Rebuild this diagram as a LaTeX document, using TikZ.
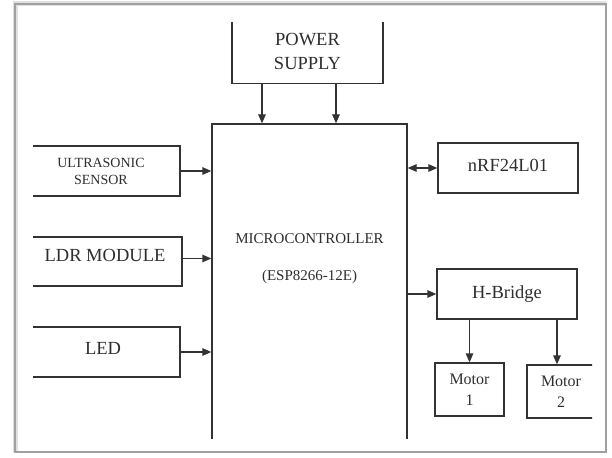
\documentclass[tikz,border=0pt]{standalone}
\usepackage{fontspec}
\setmainfont{Liberation Serif}
\usetikzlibrary{arrows.meta,calc}
\definecolor{LineCol}{HTML}{333333}
\definecolor{TextCol}{HTML}{2E2E2E}
\definecolor{FrameCol}{HTML}{A0A0A0}
\definecolor{ShadeCol}{HTML}{E0E0E0}

\begin{document}
\begin{tikzpicture}[x=1pt,y=-1pt,
  every node/.style={font=\fontsize{18.5}{24}\selectfont, text=TextCol},
  blk/.style={draw=LineCol, line width=1.3pt, inner sep=0pt, align=center},
  arr/.style={draw=LineCol, line width=1.3pt},
  >={Triangle[length=9pt,width=7.5pt]}]
  \useasboundingbox (0,0) rectangle (612,457);
  \draw[ShadeCol, line width=5pt] (15,452) -- (15,4) -- (606,4);
  \draw[FrameCol, line width=1.8pt] (15,4) rectangle (606,452);
  \begin{scope}
    \clip (33,23) rectangle (592,438);
    \node[blk, minimum width=151, minimum height=65] (power) at (307.5,51) {POWER\\SUPPLY};
    \node[blk, minimum width=195, minimum height=336] (mcu) at (309.5,292) {};
    \node[font=\fontsize{15}{37}\selectfont, align=center] (mcutxt) at (309.5,258.5)
      {MICROCONTROLLER\\(ESP8266-12E)};
    \node[blk, minimum width=158, minimum height=50, font=\fontsize{14}{17}\selectfont]
      (ultra) at (101,171) {ULTRASONIC\\SENSOR};
    \node[blk, minimum width=154, minimum height=49, text depth=13pt] (ldr) at (105,261.5) {LDR MODULE};
    \node[blk, minimum width=154, minimum height=50, text depth=7pt] (led) at (103,352) {LED};
    \node[blk, minimum width=140, minimum height=50, text depth=6pt] (nrf) at (508,168) {nRF24L01};
    \node[blk, minimum width=140, minimum height=50] (hb) at (507,294) {H-Bridge};
    \node[blk, minimum width=69, minimum height=53, font=\fontsize{16}{21}\selectfont]
      (m1) at (469.5,389.5) {Motor\\1};
    \node[blk, minimum width=68, minimum height=53, font=\fontsize{16}{21}\selectfont]
      (m2) at (561,391.5) {Motor\\2};
    \draw[arr,->] ([xshift=-45.5pt]power.south) -- ([xshift=-45.5pt]power.south |- mcu.north);
    \draw[arr,->] ([xshift=28.5pt]power.south) -- ([xshift=28.5pt]power.south |- mcu.north);
    \draw[arr,->] (ultra.east) -- (ultra.east -| mcu.west);
    \draw[arr,->] ([yshift=3pt]ldr.east) -- ([yshift=3pt]ldr.east -| mcu.west);
    \draw[arr,->] (led.east) -- (led.east -| mcu.west);
    \draw[arr,<->] (nrf.west -| mcu.east) -- (nrf.west);
    \draw[arr,->] (hb.west -| mcu.east) -- (hb.west);
    \draw[arr,->] (m1.north |- hb.south) -- (m1.north);
    \draw[arr,->] ([xshift=-4pt]m2.north |- hb.south) -- ([xshift=-4pt]m2.north);
  \end{scope}
\end{tikzpicture}
\end{document}
